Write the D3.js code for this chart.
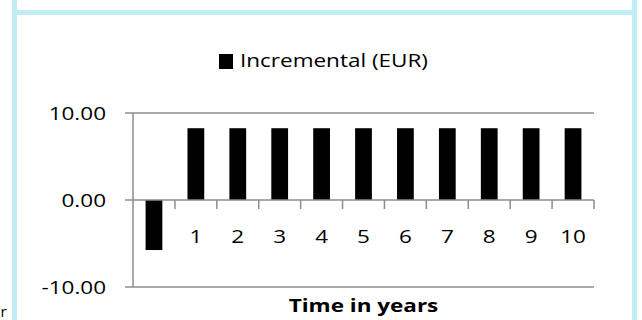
<!DOCTYPE html>
<html>
<head>
<meta charset="utf-8">
<script src="https://cdn.jsdelivr.net/npm/d3@7"></script>
<style>
  body { margin: 0; background: #fff; }
  text { font-family: "Open Sans", sans-serif; fill: #000; }
</style>
</head>
<body>
<svg id="chart" width="642" height="320"></svg>
<script>

var years      = [0, 1, 2, 3, 4, 5, 6, 7, 8, 9, 10];
var yearLabels = ["", "1", "2", "3", "4", "5", "6", "7", "8", "9", "10"];
var incremental = [-5.75, 8.25, 8.25, 8.25, 8.25, 8.25, 8.25, 8.25, 8.25, 8.25, 8.25];
var yTicks = [-10, 0, 10];
var seriesName = "Incremental (EUR)";
var xTitle = "Time in years";

var svg = d3.select("#chart");
var border = "#c0ecf6";
var grid = "#8c8c8c";
var sx = 1.25;   // the picture is stretched sideways

// text helper, stretched round its anchor
function put_text(sel, x, y, txt, anchor, weight){
    return sel.append("text")
        .attr("transform", "translate(" + x + "," + y + ") scale(" + sx + ",1)")
        .attr("text-anchor", anchor)
        .attr("font-size", "18px")
        .attr("font-weight", weight || "normal")
        .text(txt);
}

// frames of the page boxes
svg.append("rect")
    .attr("x", 14.5).attr("y", 12.5)
    .attr("width", 620).attr("height", 330)
    .attr("fill", "none").attr("stroke", border).attr("stroke-width", 5);
svg.append("line").attr("x1", 14.5).attr("x2", 14.5).attr("y1", 0).attr("y2", 12)
    .attr("stroke", border).attr("stroke-width", 5);
svg.append("line").attr("x1", 634.5).attr("x2", 634.5).attr("y1", 0).attr("y2", 12)
    .attr("stroke", border).attr("stroke-width", 5);

// stray letter from the neighbouring box
svg.append("text").attr("x", 0.5).attr("y", 317).attr("font-size", "15px").text("r");

var x = d3.scaleBand().domain(years).range([133, 594]).paddingInner(0.6).paddingOuter(0.3);
var y = d3.scaleLinear().domain([-10, 10]).range([287, 113]);
var fmt = function(d){ return d3.format(".2f")(d).replace("\u2212", "-"); };

// horizontal gridlines (not at zero, the axis goes there)
svg.selectAll(".grid")
    .data(yTicks.filter(function(d){ return d != 0; }))
    .enter().append("line")
    .attr("x1", 125).attr("x2", 594)
    .attr("y1", function(d){ return y(d); })
    .attr("y2", function(d){ return y(d); })
    .attr("stroke", grid).attr("stroke-width", 1.5);

// value axis
svg.append("line")
    .attr("x1", 133).attr("x2", 133)
    .attr("y1", y(10)).attr("y2", y(-10))
    .attr("stroke", grid).attr("stroke-width", 1.5);

yTicks.forEach(function(d){
    put_text(svg, 106, y(d) + 7, fmt(d), "end");
});

// bars
svg.selectAll(".bar")
    .data(incremental)
    .enter().append("rect")
    .attr("x", function(d, i){ return x(years[i]); })
    .attr("width", x.bandwidth())
    .attr("y", function(d){ return y(Math.max(0, d)); })
    .attr("height", function(d){ return Math.abs(y(d) - y(0)); })
    .attr("fill", "#000");

// category axis on zero
svg.append("line")
    .attr("x1", 125).attr("x2", 594)
    .attr("y1", y(0)).attr("y2", y(0))
    .attr("stroke", grid).attr("stroke-width", 1.5);

var step = x.step();
svg.selectAll(".xtick")
    .data(years)
    .enter().append("line")
    .attr("x1", function(d){ return x(d) - step * 0.3 + step; })
    .attr("x2", function(d){ return x(d) - step * 0.3 + step; })
    .attr("y1", y(0)).attr("y2", y(0) + 9)
    .attr("stroke", grid).attr("stroke-width", 1.5);

years.forEach(function(d, i){
    put_text(svg, x(d) + x.bandwidth() / 2, y(0) + 42.5, yearLabels[i], "middle");
});

// axis title
put_text(svg, (133 + 594) / 2, 312, xTitle, "middle", "bold");

// legend
svg.append("rect").attr("x", 219).attr("y", 54).attr("width", 14).attr("height", 15).attr("fill", "#000");
put_text(svg, 240, 66.5, seriesName, "start");

</script>
</body>
</html>
